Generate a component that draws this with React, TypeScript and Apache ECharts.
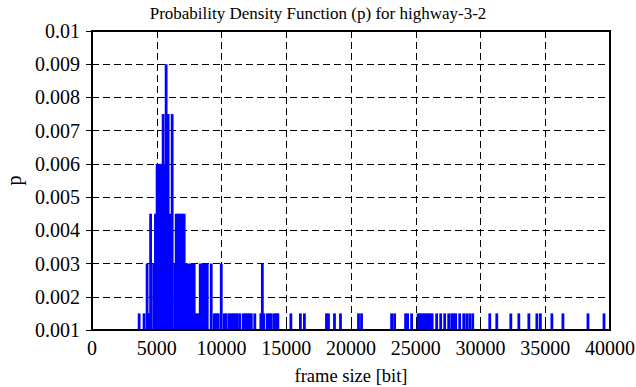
import React, { useEffect, useRef } from "react";
import * as echarts from "echarts";

// Frame sizes (bit) at which an impulse is drawn, and its probability density p
const frameSizeBits = [
  3640, 4020, 4255, 4371, 4526, 4758, 4898, 5029, 5184, 5339, 5493, 5609, 5725, 5880,
  6035, 6190, 6383, 6499, 6654, 6809, 6963, 7118, 7273, 7428, 7582, 7737, 7892,
  8046, 8201, 8356, 8511, 8665, 8820, 8898, 9207, 9439, 9594, 9749, 9981, 10213,
  10368, 10600, 10754, 10909, 11064, 11219, 11412, 11683, 11838, 11992, 12147,
  12302, 12573, 13037, 13153, 13269, 13540, 13694, 13849, 14081, 14236, 14352,
  15358, 16093, 16402, 18105, 18259, 18724, 19188, 20580, 20813, 23134, 23366,
  24217, 24372, 24681, 25184, 25339, 25494, 25648, 25803, 25958, 26112, 26267,
  26615, 26925, 27234, 27544, 27776, 27931, 28085, 28395, 28704, 28936, 29168,
  29401, 30716, 31257, 32341, 32960, 33733, 34352, 34623, 35513, 36364, 38298,
  39536,
];
const density = [
  0.0015, 0.0015, 0.003, 0.0015, 0.0045, 0.003, 0.0045, 0.006, 0.006, 0.006, 0.0075, 0.006, 0.009, 0.0075,
  0.0045, 0.0075, 0.003, 0.0045, 0.0045, 0.0045, 0.0045, 0.0045, 0.003, 0.003, 0.003, 0.003, 0.003,
  0.0015, 0.0015, 0.003, 0.003, 0.003, 0.003, 0.003, 0.003, 0.0015, 0.0015, 0.0015, 0.003, 0.0015,
  0.0015, 0.0015, 0.0015, 0.0015, 0.0015, 0.0015, 0.0015, 0.0015, 0.0015, 0.0015, 0.0015,
  0.0015, 0.0015, 0.0015, 0.003, 0.0015, 0.0015, 0.0015, 0.0015, 0.0015, 0.0015, 0.0015,
  0.0015, 0.0015, 0.0015, 0.0015, 0.0015, 0.0015, 0.0015, 0.0015, 0.0015, 0.0015, 0.0015,
  0.0015, 0.0015, 0.0015, 0.0015, 0.0015, 0.0015, 0.0015, 0.0015, 0.0015, 0.0015, 0.0015,
  0.0015, 0.0015, 0.0015, 0.0015, 0.0015, 0.0015, 0.0015, 0.0015, 0.0015, 0.0015, 0.0015,
  0.0015, 0.0015, 0.0015, 0.0015, 0.0015, 0.0015, 0.0015, 0.0015, 0.0015, 0.0015, 0.0015,
  0.0015,
];

const X_MIN = 0;
const X_MAX = 40000;
const X_STEP = 5000;
const Y_MIN = 0.001;
const Y_MAX = 0.01;
const Y_STEP = 0.001;

const TITLE = "Probability Density Function (p) for highway-3-2";
const X_NAME = "frame size [bit]";
const Y_NAME = "p";

const FONT = "'Liberation Serif', 'Times New Roman', serif";

export default function App() {
  const ref = useRef<HTMLDivElement>(null);

  useEffect(() => {
    if (!ref.current) return;
    const chart = echarts.init(ref.current, undefined, { renderer: "svg" });
    const gridLine = { show: true, lineStyle: { color: "#000", width: 1, type: [7, 4] as any } };
    const tickIn = { show: true, inside: true, length: 6, lineStyle: { color: "#000", width: 1 } };
    const yFmt = (v: number) => String(+v.toFixed(3));
    const xFmt = (v: number) => String(v);
    chart.setOption({
      animation: false,
      backgroundColor: "#fff",
      textStyle: { fontFamily: FONT },
      title: {
        text: TITLE,
        left: "center",
        top: 0,
        textStyle: { fontFamily: FONT, fontSize: 17, fontWeight: "normal", color: "#000" },
      },
      grid: {
        left: 92,
        right: 26,
        top: 31,
        bottom: 57,
        containLabel: false,
        outerBoundsMode: "none",
        show: true,
        z: 10,
        backgroundColor: "transparent",
        borderColor: "#000",
        borderWidth: 2,
      },
      xAxis: [
        {
          type: "value",
          position: "bottom",
          min: X_MIN,
          max: X_MAX,
          interval: X_STEP,
          name: X_NAME,
          nameLocation: "middle",
          nameGap: 36,
          nameMoveOverlap: false,
          nameTextStyle: { fontFamily: FONT, fontSize: 18.5, color: "#000" },
          axisLine: { show: false },
          axisTick: tickIn,
          splitLine: gridLine,
          axisLabel: { fontFamily: FONT, fontSize: 20, color: "#000", margin: 8, formatter: xFmt },
        },
        {
          type: "value",
          position: "top",
          min: X_MIN,
          max: X_MAX,
          interval: X_STEP,
          axisLine: { show: false },
          axisTick: tickIn,
          splitLine: { show: false },
          axisLabel: { show: false },
        },
      ],
      yAxis: [
        {
          type: "value",
          position: "left",
          min: Y_MIN,
          max: Y_MAX,
          interval: Y_STEP,
          name: Y_NAME,
          nameLocation: "middle",
          nameRotate: 90,
          nameGap: 68,
          nameMoveOverlap: false,
          nameTextStyle: { fontFamily: FONT, fontSize: 20, color: "#000" },
          axisLine: { show: false },
          axisTick: tickIn,
          splitLine: gridLine,
          axisLabel: { fontFamily: FONT, fontSize: 20, color: "#000", margin: 12, formatter: yFmt },
        },
        {
          type: "value",
          position: "right",
          min: Y_MIN,
          max: Y_MAX,
          interval: Y_STEP,
          axisLine: { show: false },
          axisTick: tickIn,
          splitLine: { show: false },
          axisLabel: { show: false },
        },
      ],
      series: [
        {
          type: "custom",
          xAxisIndex: 0,
          yAxisIndex: 0,
          clip: true,
          encode: { x: 0, y: 1 },
          data: frameSizeBits.map((b, i) => [b, density[i]]),
          renderItem: (_params: any, api: any) => {
            const x = api.value(0);
            const p = api.value(1);
            const top = api.coord([x, p]);
            const base = api.coord([x, Y_MIN]);
            const w = 2.8;
            return {
              type: "rect",
              shape: { x: top[0] - w / 2, y: top[1], width: w, height: base[1] - top[1] },
              style: { fill: "#0000ff" },
            };
          },
        },
      ],
    });
    return () => chart.dispose();
  }, []);

  return (
    <div
      ref={ref}
      style={{ position: "absolute", left: 0, top: 0, width: 636, height: 387 }}
    />
  );
}
